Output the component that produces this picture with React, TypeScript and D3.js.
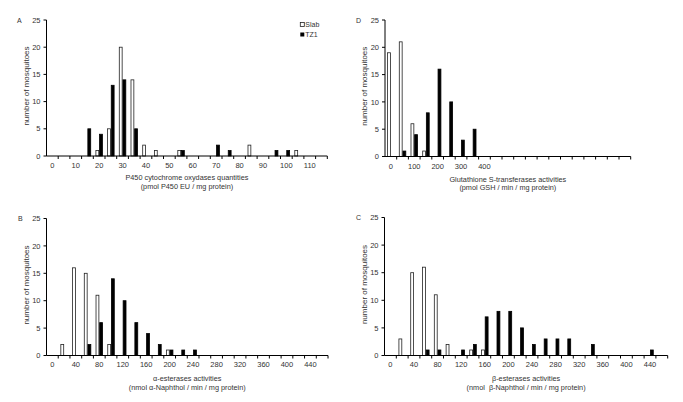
import React from "react";
import * as d3 from "d3";

// ---------- DATA ----------
const catsA = [0, 5, 10, 15, 20, 25, 30, 35, 40, 45, 50, 55, 60, 65, 70, 75, 80, 85, 90, 95, 100, 105, 110, 115];
const slabA = [0, 0, 0, 0, 1, 5, 20, 14, 2, 1, 0, 1, 0, 0, 0, 0, 0, 2, 0, 0, 0, 1, 0, 0];
const tz1A = [0, 0, 0, 5, 4, 13, 14, 5, 0, 0, 0, 1, 0, 0, 2, 1, 0, 0, 0, 1, 1, 0, 0, 0];
const labelsA = [0, 10, 20, 30, 40, 50, 60, 70, 80, 90, 100, 110];

const catsD = [0, 50, 100, 150, 200, 250, 300, 350, 400, 450, 500, 550, 600, 650, 700, 750, 800, 850, 900, 950, 1000];
const slabD = [19, 21, 6, 1, 0, 0, 0, 0, 0, 0, 0, 0, 0, 0, 0, 0, 0, 0, 0, 0, 0];
const tz1D = [0, 1, 4, 8, 16, 10, 3, 5, 0, 0, 0, 0, 0, 0, 0, 0, 0, 0, 0, 0, 0];
const labelsD = [0, 100, 200, 300, 400];

const catsB = [0, 20, 40, 60, 80, 100, 120, 140, 160, 180, 200, 220, 240, 260, 280, 300, 320, 340, 360, 380, 400, 420, 440, 460];
const slabB = [0, 2, 16, 15, 11, 2, 0, 0, 0, 0, 1, 0, 0, 0, 0, 0, 0, 0, 0, 0, 0, 0, 0, 0];
const tz1B = [0, 0, 0, 2, 6, 14, 10, 6, 4, 2, 1, 1, 1, 0, 0, 0, 0, 0, 0, 0, 0, 0, 0, 0];
const labelsB = [0, 40, 80, 120, 160, 200, 240, 280, 320, 360, 400, 440];

const catsC = [0, 20, 40, 60, 80, 100, 120, 140, 160, 180, 200, 220, 240, 260, 280, 300, 320, 340, 360, 380, 400, 420, 440, 460];
const slabC = [0, 3, 15, 16, 11, 2, 0, 1, 1, 0, 0, 0, 0, 0, 0, 0, 0, 0, 0, 0, 0, 0, 0, 0];
const tz1C = [0, 0, 0, 1, 1, 0, 1, 2, 7, 8, 8, 5, 2, 3, 3, 3, 0, 2, 0, 0, 0, 0, 1, 0];
const labelsC = [0, 40, 80, 120, 160, 200, 240, 280, 320, 360, 400, 440];

const yTicks = [0, 5, 10, 15, 20, 25];
const seriesNames = ["Slab", "TZ1"];
const yTitle = "number of mosquitoes";

const FONT = "'Liberation Sans', Arial, sans-serif";
const TXT = "#333";

type PanelProps = {
  left: number;
  step: number;
  top: number;
  bottom: number;
  cats: number[];
  slab: number[];
  tz1: number[];
  labels: number[];
  title1: string;
  title2: string;
  titleY1: number;
  titleY2: number;
  tickLabelY: number;
  letter: string;
  letterX: number;
  letterY: number;
  legend?: boolean;
};

function Panel(p: PanelProps) {
  const x = d3
    .scaleBand<number>()
    .domain(p.cats)
    .range([p.left, p.left + p.step * p.cats.length])
    .paddingInner(0)
    .paddingOuter(0);
  const sub = d3
    .scaleBand<string>()
    .domain(seriesNames)
    .range([0, p.step])
    .paddingOuter(0.6)
    .paddingInner(0);
  const y = d3.scaleLinear().domain([0, 25]).range([p.bottom, p.top]);
  const [x0, x1] = x.range();
  const series = [
    { name: "Slab", values: p.slab, fill: "#fff", stroke: "#222" },
    { name: "TZ1", values: p.tz1, fill: "#000", stroke: "#000" },
  ];
  const cx = (x0 + x1) / 2;
  return (
    <g>
      {/* bars */}
      {series.map((s) =>
        s.values.map((v, i) =>
          v > 0 ? (
            <rect
              key={s.name + i}
              x={(x(p.cats[i]) as number) + (sub(s.name) as number) + 0.4}
              y={y(v)}
              width={sub.bandwidth() - 0.8}
              height={y(0) - y(v)}
              fill={s.fill}
              stroke={s.stroke}
              strokeWidth={0.8}
            />
          ) : null
        )
      )}
      {/* y axis */}
      <line x1={x0} x2={x0} y1={y(25)} y2={y(0)} stroke="#000" strokeWidth={1} />
      {yTicks.map((t) => (
        <g key={t}>
          <line x1={x0 - 3} x2={x0} y1={y(t)} y2={y(t)} stroke="#000" strokeWidth={1} />
          <text x={x0 - 6} y={y(t) + 2.6} textAnchor="end" fontSize={7.5} fill={TXT} fontFamily={FONT}>
            {t}
          </text>
        </g>
      ))}
      {/* x axis */}
      <line x1={x0} x2={x1} y1={y(0)} y2={y(0)} stroke="#000" strokeWidth={1} />
      {p.cats.map((c, i) => (
        <line
          key={"t" + i}
          x1={(x(c) as number) + p.step}
          x2={(x(c) as number) + p.step}
          y1={y(0)}
          y2={y(0) + 3}
          stroke="#000"
          strokeWidth={1}
        />
      ))}
      {p.labels.map((l) => (
        <text
          key={"l" + l}
          x={(x(l) as number) + x.bandwidth() / 2}
          y={p.tickLabelY}
          textAnchor="middle"
          fontSize={7.5}
          fill={TXT}
          fontFamily={FONT}
        >
          {l}
        </text>
      ))}
      {/* titles */}
      <text x={cx} y={p.titleY1} textAnchor="middle" fontSize={7.3} fill={TXT} fontFamily={FONT}>
        {p.title1}
      </text>
      <text x={cx} y={p.titleY2} textAnchor="middle" fontSize={7.3} fill={TXT} fontFamily={FONT} style={{ whiteSpace: "pre" }}>
        {p.title2}
      </text>
      <text
        transform={`translate(${x0 - 18},${(y(0) + y(25)) / 2 - 2}) rotate(-90)`}
        textAnchor="middle"
        fontSize={8}
        fill={TXT}
        fontFamily={FONT}
      >
        {yTitle}
      </text>
      <text x={p.letterX} y={p.letterY} fontSize={7} fill={TXT} fontFamily={FONT}>
        {p.letter}
      </text>
      {p.legend && (
        <g>
          <rect x={x1 - 27} y={y(25) + 2.5} width={4} height={4} fill="#fff" stroke="#222" strokeWidth={0.8} />
          <text x={x1 - 22} y={y(25) + 7} fontSize={7} fill={TXT} fontFamily={FONT}>
            {seriesNames[0]}
          </text>
          <rect x={x1 - 27} y={y(25) + 12.5} width={4} height={4} fill="#000" />
          <text x={x1 - 22} y={y(25) + 17} fontSize={7} fill={TXT} fontFamily={FONT}>
            {seriesNames[1]}
          </text>
        </g>
      )}
    </g>
  );
}

export default function App() {
  return (
    <svg width={683} height={402} style={{ position: "absolute", left: 0, top: 0, background: "#fff" }}>
      <rect x={0} y={0} width={683} height={402} fill="#fff" />
      <Panel
        left={46.5}
        step={11.7}
        top={20}
        bottom={156}
        cats={catsA}
        slab={slabA}
        tz1={tz1A}
        labels={labelsA}
        title1="P450 cytochrome oxydases quantities"
        title2="(pmol P450 EU / mg protein)"
        titleY1={180}
        titleY2={188.5}
        tickLabelY={168}
        letter="A"
        letterX={17}
        letterY={22.5}
        legend
      />
      <Panel
        left={385}
        step={11.7}
        top={20}
        bottom={156.5}
        cats={catsD}
        slab={slabD}
        tz1={tz1D}
        labels={labelsD}
        title1="Glutathione S-transferases activities"
        title2="(pmol GSH / min / mg protein)"
        titleY1={181.5}
        titleY2={190}
        tickLabelY={168.5}
        letter="D"
        letterX={356}
        letterY={22.5}
      />
      <Panel
        left={46.5}
        step={11.73}
        top={218.5}
        bottom={355.5}
        cats={catsB}
        slab={slabB}
        tz1={tz1B}
        labels={labelsB}
        title1="α-esterases activities"
        title2="(nmol α-Naphthol / min / mg protein)"
        titleY1={380.5}
        titleY2={389.5}
        tickLabelY={367}
        letter="B"
        letterX={18}
        letterY={221}
      />
      <Panel
        left={384.5}
        step={11.8}
        top={217.5}
        bottom={355.5}
        cats={catsC}
        slab={slabC}
        tz1={tz1C}
        labels={labelsC}
        title1="β-esterases activities"
        title2="(nmol  β-Naphthol / min / mg protein)"
        titleY1={381}
        titleY2={389.5}
        tickLabelY={367}
        letter="C"
        letterX={356}
        letterY={220}
      />
    </svg>
  );
}
